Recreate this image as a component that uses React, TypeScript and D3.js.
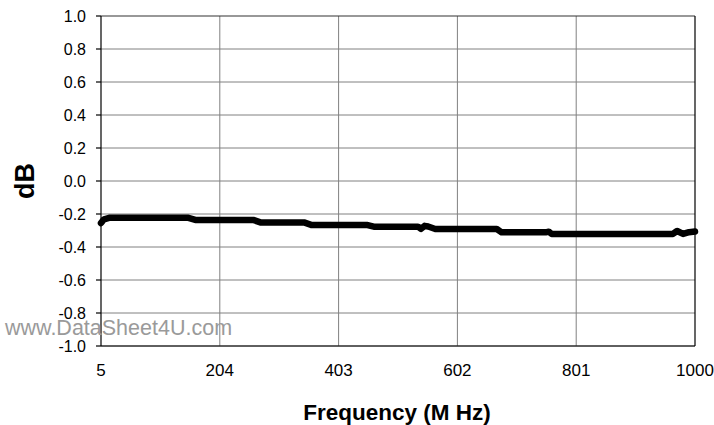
import * as d3 from 'd3';

const freqMHz = [
  5, 10, 20, 150, 163, 260, 272, 345, 357, 450, 462, 536, 541, 547, 553, 565,
  668, 676, 750, 755, 760, 963, 970, 980, 990, 1000,
];
const gainDb = [
  -0.255, -0.232, -0.222, -0.222, -0.236, -0.236, -0.251, -0.251, -0.266,
  -0.266, -0.277, -0.277, -0.29, -0.272, -0.276, -0.291, -0.291, -0.311,
  -0.311, -0.307, -0.321, -0.321, -0.303, -0.321, -0.31, -0.306,
];
const xTicks = [5, 204, 403, 602, 801, 1000];
const yTicks = [-1.0, -0.8, -0.6, -0.4, -0.2, 0.0, 0.2, 0.4, 0.6, 0.8, 1.0];

const width = 714;
const height = 425;
const margin = { left: 101, right: 19, top: 16, bottom: 79 };
const font = '"Liberation Sans", Arial, sans-serif';

export default function App() {
  const xScale = d3
    .scaleLinear()
    .domain([5, 1000])
    .range([margin.left, width - margin.right]);
  const yScale = d3
    .scaleLinear()
    .domain([-1, 1])
    .range([height - margin.bottom, margin.top]);

  const points = freqMHz.map((f, i) => [f, gainDb[i]] as [number, number]);
  const path = d3
    .line<[number, number]>()
    .x((d) => xScale(d[0]))
    .y((d) => yScale(d[1]))(points)!;

  const x0 = xScale(5);
  const x1 = xScale(1000);
  const y0 = yScale(-1);
  const y1 = yScale(1);

  return (
    <svg
      width={width}
      height={height}
      style={{ position: 'absolute', left: 0, top: 0, background: '#fff' }}
      fontFamily={font}
    >
      {/* grid */}
      <g stroke="#808080" strokeWidth={1}>
        {yTicks.slice(0, -1).map((t) => (
          <line key={'gy' + t} x1={x0} x2={x1} y1={yScale(t)} y2={yScale(t)} />
        ))}
        {xTicks.slice(1, -1).map((t) => (
          <line key={'gx' + t} x1={xScale(t)} x2={xScale(t)} y1={y1} y2={y0} />
        ))}
      </g>

      {/* axes / border */}
      <g stroke="#000" strokeWidth={1.2}>
        <line x1={x0} x2={x1} y1={y1} y2={y1} stroke="#333" />
        <line x1={x0} x2={x0} y1={y1} y2={y0} />
        <line x1={x0} x2={x1} y1={y0} y2={y0} />
        <line x1={x1} x2={x1} y1={y1} y2={y0} />
        {yTicks.map((t) => (
          <line key={'ty' + t} x1={x0 - 5} x2={x0} y1={yScale(t)} y2={yScale(t)} />
        ))}
      </g>

      {/* y tick labels */}
      <g fontSize={16} textAnchor="end" fill="#000">
        {yTicks.map((t) => (
          <text key={'ly' + t} x={x0 - 15} y={yScale(t)} dy="0.35em">
            {t.toFixed(1)}
          </text>
        ))}
      </g>

      {/* x tick labels */}
      <g fontSize={17} textAnchor="middle" fill="#000">
        {xTicks.map((t) => (
          <text key={'lx' + t} x={xScale(t)} y={375.5}>
            {t}
          </text>
        ))}
      </g>

      {/* watermark */}
      <text x={5} y={335} fontSize={21.5} fill="#9a9a9a">
        www.DataSheet4U.com
      </text>

      {/* data line */}
      <path
        d={path}
        fill="none"
        stroke="#000"
        strokeWidth={6.5}
        strokeLinejoin="round"
        strokeLinecap="round"
      />

      {/* axis titles */}
      <text
        x={397}
        y={420}
        fontSize={22.5}
        fontWeight="bold"
        textAnchor="middle"
        fill="#000"
      >
        Frequency (M Hz)
      </text>
      <text
        transform={`translate(34,${yScale(0)}) rotate(-90)`}
        fontSize={27}
        fontWeight="bold"
        textAnchor="middle"
        fill="#000"
      >
        dB
      </text>
    </svg>
  );
}
